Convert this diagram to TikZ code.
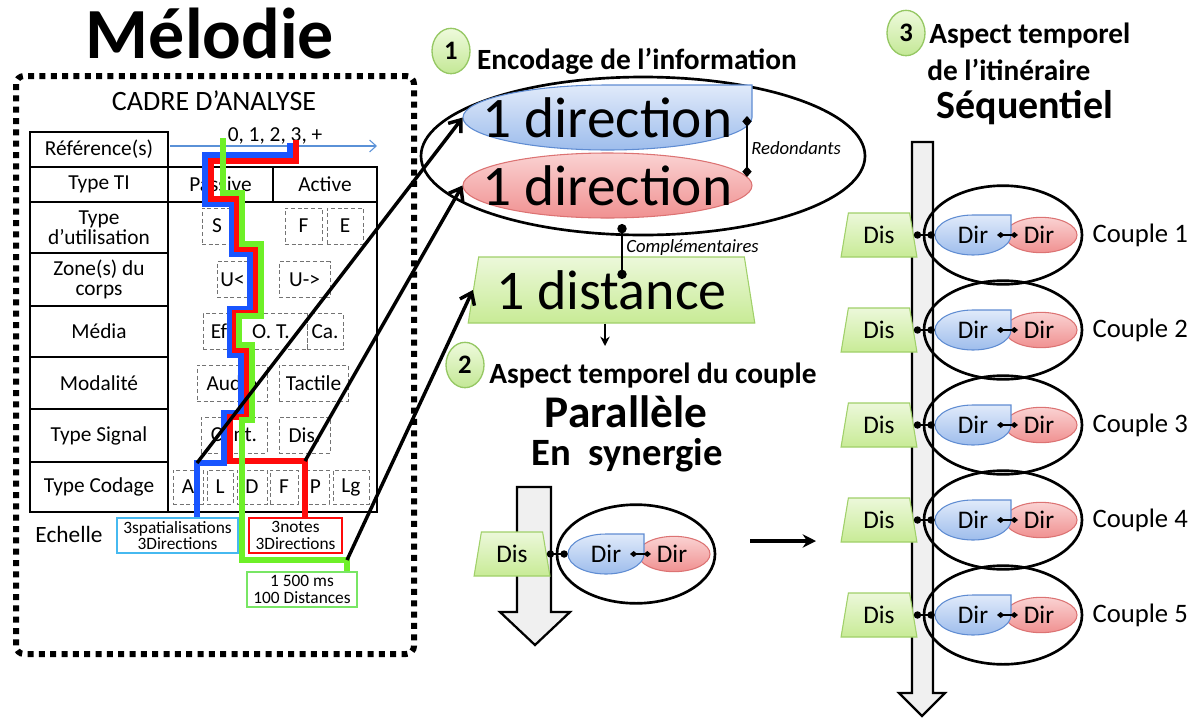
\documentclass[tikz,border=0pt]{standalone}
\usepackage{fontspec}
\setmainfont{Carlito}
\usetikzlibrary{shapes.geometric, arrows.meta, calc}

\definecolor{bluetop}{RGB}{224,234,250}
\definecolor{bluebot}{RGB}{158,189,236}
\definecolor{blueline}{RGB}{95,140,210}
\definecolor{redtop}{RGB}{250,210,210}
\definecolor{redbot}{RGB}{240,145,145}
\definecolor{redline}{RGB}{220,115,115}
\definecolor{distop}{RGB}{236,248,218}
\definecolor{disbot}{RGB}{200,235,150}
\definecolor{disline}{RGB}{160,208,105}
\definecolor{numtop}{RGB}{238,250,220}
\definecolor{numbot}{RGB}{196,232,150}
\definecolor{numline}{RGB}{150,200,100}
\definecolor{trailblue}{RGB}{25,85,255}
\definecolor{trailred}{RGB}{255,10,10}
\definecolor{trailgreen}{RGB}{110,240,40}
\definecolor{scblue}{RGB}{70,185,240}
\definecolor{scgreen}{RGB}{120,230,100}
\definecolor{refline}{RGB}{90,145,215}

\begin{document}
\begin{tikzpicture}[x=0.75pt, y=-0.75pt,
  cell/.style={draw, line width=1.3pt, minimum width=103.5pt, inner sep=1pt, align=center, font=\fontsize{16}{15}\selectfont},
  opt/.style={draw=black!55, densely dashed, line width=0.6pt, minimum height=27pt, inner sep=0pt, font=\fontsize{16}{18}\selectfont},
  sc/.style={draw, line width=0.8pt, minimum height=26.25pt, inner sep=0pt, align=center, font=\fontsize{13}{12.5}\selectfont},
  trail/.style={line width=4.2pt},
  link/.style={line width=2.6pt, -{Straight Barb[length=8pt,width=12pt]}},
  num/.style={ellipse, draw=numline, line width=1pt, top color=numtop, bottom color=numbot, minimum width=28.5pt, minimum height=34pt, inner sep=0pt, font=\bfseries\fontsize{20}{22}\selectfont},
  head/.style={font=\bfseries\fontsize{22}{24}\selectfont, inner sep=0pt},
  grp/.style={ellipse, draw, line width=2pt, inner sep=0pt},
  dis/.style={trapezium, trapezium stretches=true, trapezium left angle=78, trapezium right angle=78, draw=disline, top color=distop, bottom color=disbot, line width=0.8pt, inner sep=0pt},
  dirR/.style={ellipse, draw=redline, top color=redtop, bottom color=redbot, line width=0.8pt, inner sep=0pt},
  dirB/.style={draw=blueline, top color=bluetop, bottom color=bluebot, line width=0.8pt},
  txt/.style={inner sep=0pt},
  dot/.style={line width=1.4pt, {Circle[length=5.5pt]}-{Circle[length=5.5pt]}},
  dia/.style={line width=1.1pt, {Diamond[length=5.5pt,width=4.5pt]}-{Diamond[length=5.5pt,width=4.5pt]}},
  bigarr/.style={draw, line width=1.7pt, fill=black!6}]
\useasboundingbox (0,0) rectangle (1204,718);

% left part: analysis frame
\node[anchor=base, inner sep=0pt, font=\bfseries\fontsize{54}{60}\selectfont] (melo) at (210,58) {Mélodie};
\draw[line width=4.5pt, dash pattern=on 4.5pt off 4pt, rounded corners=6pt] (16,76) rectangle (414,654);
\node[anchor=base, inner sep=0pt, font=\fontsize{21}{24}\selectfont] (cadre) at (214,110) {CADRE D’ANALYSE};

\node[cell, minimum height=26.25pt] (ref) at (99,149.5) {Référence(s)};
\node[cell, minimum height=26.25pt] (ti) at (99,184.5) {Type TI};
\node[cell, minimum height=38.25pt] (util) at (99,227.5) {Type\\d’utilisation};
\node[cell, minimum height=39.75pt] (zone) at (99,279.5) {Zone(s) du\\corps};
\node[cell, minimum height=38.25pt] (media) at (99,331.5) {Média};
\node[cell, minimum height=39pt] (moda) at (99,383) {Modalité};
\node[cell, minimum height=39.75pt] (sig) at (99,435.5) {Type Signal};
\node[cell, minimum height=37.5pt] (cod) at (99,487) {Type Codage};
\node[cell, minimum width=78.75pt, minimum height=26.25pt] (pas) at (220.5,184.5) {Passive};
\node[cell, minimum width=78pt, minimum height=26.25pt] (act) at (325,184.5) {Active};
\draw[line width=1.3pt] (168,202) rectangle (377,512);

\node[opt, minimum width=22.5pt] (oS) at (217,226) {S};
\node[opt, minimum width=27.75pt] (oF) at (303.5,226) {F};
\node[opt, minimum width=27pt] (oE) at (345,226) {E};
\node[opt, minimum width=23.25pt] (oUl) at (232.5,279.5) {U<};
\node[opt, minimum width=38.25pt] (oUr) at (304.5,279.5) {U->};
\node[opt, minimum width=24pt] (oEf) at (219,331.5) {Ef};
\node[opt, minimum width=54pt] (oOT) at (271,331.5) {O. T.};
\node[opt, minimum width=27pt] (oCa) at (325,331.5) {Ca.};
\node[opt, minimum width=52.5pt] (oAud) at (232,383) {Audio};
\node[opt, minimum width=51.75pt] (oTac) at (313.5,383) {Tactile};
\node[opt, minimum width=49.5pt] (oCon) at (234,435) {Cont.};
\node[opt, minimum width=38.25pt] (oDis) at (304.5,435) {Dis.};
\node[opt, minimum width=22.5pt, minimum height=25.5pt] (cA) at (188,487) {A};
\node[opt, minimum width=19.5pt, minimum height=25.5pt] (cL) at (220,487) {L};
\node[opt, minimum width=22.5pt, minimum height=25.5pt] (cD) at (252,487) {D};
\node[opt, minimum width=21pt, minimum height=25.5pt] (cF) at (284,487) {F};
\node[opt, minimum width=20.25pt, minimum height=25.5pt] (cP) at (315.5,487) {P};
\node[opt, minimum width=27pt, minimum height=25.5pt] (cLg) at (351,487) {Lg};

\coordinate (ra) at (170,146);
\coordinate (rb) at (377,146);
\draw[refline, line width=0.8pt, -{Straight Barb[length=5pt,width=9pt]}] (ra) -- (rb);
\node[anchor=base, inner sep=0pt, font=\fontsize{16}{18}\selectfont] (vals) at (275,141) {0, 1, 2, 3, +};

\node[anchor=base, inner sep=0pt, font=\fontsize{17.5}{20}\selectfont] (ech) at (69,542) {Echelle};
\node[sc, draw=scblue, minimum width=90.75pt] (spat) at (177.5,535.5) {3spatialisations\\3Directions};
\node[sc, draw=trailred, minimum width=69.75pt] (notes) at (295.5,535.5) {3notes\\3Directions};
\node[sc, draw=scgreen, minimum width=82.5pt] (ms) at (302,589.5) {1 500 ms\\100 Distances};

% the three paths through the frame
\draw[trail, trailblue] (290,143) -- (290,155) -- (205,155) -- (205,204) -- (232,204) -- (232,254) -- (250,254) -- (250,309) -- (230,309) -- (230,355) -- (241,355) -- (241,413) -- (224,413) -- (224,463) -- (197,463) coordinate (kA) -- (kA |- spat.north);
\draw[trail, trailred] (296,140) -- (296,161) -- (211,161) -- (211,199) -- (237,199) -- (237,249) -- (256,249) -- (256,313) -- (235,313) -- (235,350) -- (247,350) -- (247,417) -- (230,417) -- (230,461) -- (305,461) coordinate (kB) -- (kB |- notes.north);
\draw[trail, trailgreen] (223,138) -- (223,193) -- (242,193) -- (242,244) -- (261,244) -- (261,316) -- (239,316) -- (239,345) -- (252,345) -- (252,420) -- (242,420) -- (242,560) -- (347,560) coordinate (kC) -- (kC |- ms.north);

% middle part: encoding
\node[num] (n1) at (451,51) {1};
\node[head, anchor=base] (enc) at (637,69) {Encodage de l’information};
\node[grp, minimum width=333pt, minimum height=118.5pt] (grp0) at (643,156) {};
\node[dirR, minimum width=216.75pt, minimum height=48.75pt] (bigR) at (607.5,185.5) {};
\node[txt, font=\fontsize{43}{45}\selectfont] (bigRt) at (bigR) {1 direction};
\draw[dirB] (752,117.5) arc[start angle=0, end angle=-270, x radius=108.375pt, y radius=24.375pt] -- (752,85) -- cycle;
\node[txt, minimum width=216.75pt, font=\fontsize{43}{45}\selectfont] (bigB) at (607.5,117.5) {1 direction};
\coordinate (rdA) at (747,116);
\coordinate (rdB) at (747,177);
\draw[line width=1.2pt, {Diamond[length=8pt,width=7pt]}-{Diamond[length=8pt,width=7pt]}] (rdA) -- (rdB);
\node[anchor=west, inner sep=0pt, font=\itshape\fontsize{14}{16}\selectfont] (redl) at (751,148) {Redondants};

\node[dis, trapezium left angle=77, trapezium right angle=77, minimum width=215.25pt, minimum height=49.5pt, font=\fontsize{42}{45}\selectfont] (dist0) at (611.5,290) {1 distance};
\coordinate (cpA) at (622,224);
\coordinate (cpB) at (622,279);
\draw[line width=1.4pt, {Circle[length=7pt]}-{Circle[length=7pt]}] (cpA) -- (cpB);
\node[anchor=west, inner sep=0pt, font=\itshape\fontsize{14}{16}\selectfont] (compl) at (626,248) {Complémentaires};
\coordinate (dwn) at (605,346);
\draw[line width=1.6pt, -{Stealth[length=7pt,width=7pt]}] (dist0.south -| dwn) -- (dwn);

\draw[link] (kA) -- (bigB.west);
\draw[link] (kB) -- (bigR.west);
\draw[link] (kC) -- (dist0.west);

% middle part: the couple
\node[num] (n2) at (465,365) {2};
\node[head, anchor=base] (asp2) at (653,383) {Aspect temporel du couple};
\node[anchor=base, inner sep=0pt, font=\bfseries\fontsize{34}{36}\selectfont] (par) at (626,427) {Parallèle};
\node[anchor=base, inner sep=0pt, font=\bfseries\fontsize{29}{32}\selectfont] (syn) at (627,465) {En~~synergie};
\draw[bigarr] (517,487) -- (551,487) -- (551,612) -- (570,612) -- (535,645) -- (500,612) -- (517,612) -- cycle;
\coordinate (ta) at (750,541);
\coordinate (tb) at (816,541);
\draw[line width=3pt, -{Stealth[length=10pt,width=10pt]}] (ta) -- (tb);

% right part: the itinerary
\node[num] (n3) at (906,33) {3};
\node[head, anchor=base west] (asp3) at (929,43) {Aspect temporel};
\node[head, anchor=base west] (iti) at (927,80) {de l’itinéraire};
\node[anchor=base, inner sep=0pt, font=\bfseries\fontsize{30}{32}\selectfont] (seq) at (1025,118) {Séquentiel};
\draw[bigarr] (912,142) -- (933,142) -- (933,693) -- (945,693) -- (922,716) -- (899,693) -- (912,693) -- cycle;

\foreach \x/\y/\k in {512/554/0, 879/235/1, 879/330/2, 879/425/3, 879/520/4, 879/615/5} {
  \node[grp, minimum width=118.5pt, minimum height=74pt] (g\k) at (\x+124,\y) {};
  \node[dirR, minimum width=54pt, minimum height=26.5pt] (r\k) at (\x+162,\y) {};
  \node[txt, font=\fontsize{19}{20}\selectfont] (rt\k) at (\x+160,\y) {Dir};
  \draw[dirB] (\x+132,\y) arc[start angle=0, end angle=-270, x radius=28.5pt, y radius=15pt] -- (\x+132,\y-20) -- cycle;
  \node[txt, minimum width=57pt, font=\fontsize{19}{20}\selectfont] (b\k) at (\x+94,\y) {Dir};
  \node[dis, minimum width=57pt, minimum height=33pt, font=\fontsize{19}{20}\selectfont] (d\k) at (\x,\y) {Dis};
  \draw[dot] (d\k.east) -- (b\k.west);
  \draw[dia] ($(b\k)+(24,0)$) -- ($(r\k)+(-23,0)$);
}
\foreach \k in {1,...,5}
  \node[anchor=west, inner sep=0pt, font=\fontsize{20}{22}\selectfont] (cl\k) at ($(g\k.east)+(9,0)$) {Couple \k};
\end{tikzpicture}
\end{document}
